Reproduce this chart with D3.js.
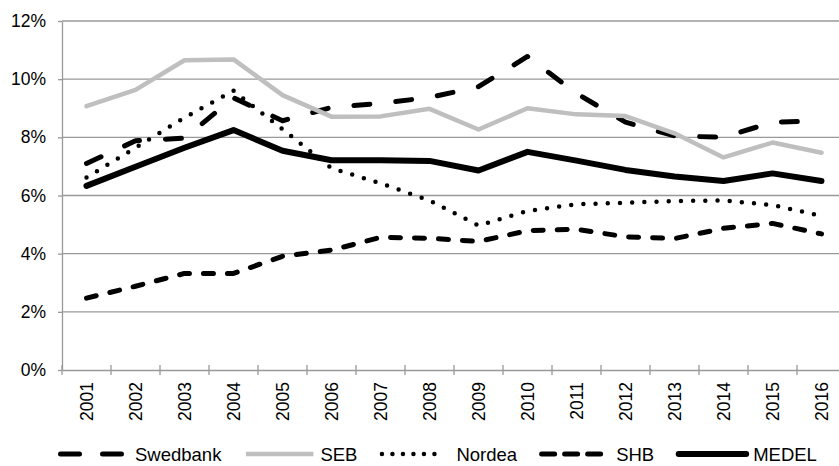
<!DOCTYPE html>
<html lang="sv">
<head>
<meta charset="UTF-8">
<title>Banker 2001-2016</title>
<script src="https://cdn.jsdelivr.net/npm/d3@7/dist/d3.min.js"></script>
<style>
  html, body { margin: 0; padding: 0; background: #fff; }
  svg { display: block; }
</style>
</head>
<body>
<script>
const years = ['2001', '2002', '2003', '2004', '2005', '2006', '2007', '2008',
               '2009', '2010', '2011', '2012', '2013', '2014', '2015', '2016'];

// värden i procent
const swedbank = [7.10, 7.88, 7.97, 9.36, 8.57, 9.03, 9.17, 9.37, 9.74, 10.78, 9.51, 8.52, 8.05, 8.00, 8.52, 8.56];
const seb      = [9.07, 9.63, 10.65, 10.68, 9.45, 8.71, 8.72, 8.98, 8.27, 9.00, 8.79, 8.73, 8.14, 7.31, 7.82, 7.47];
const nordea   = [6.62, 7.64, 8.68, 9.60, 8.28, 6.94, 6.42, 5.83, 4.97, 5.47, 5.70, 5.75, 5.81, 5.83, 5.67, 5.30];
const shb      = [2.47, 2.88, 3.32, 3.32, 3.91, 4.12, 4.56, 4.53, 4.42, 4.79, 4.84, 4.58, 4.52, 4.87, 5.04, 4.68];
const medel    = [6.33, 6.99, 7.64, 8.25, 7.54, 7.21, 7.21, 7.19, 6.86, 7.50, 7.20, 6.88, 6.65, 6.50, 6.76, 6.50];

const yTicks = [0, 2, 4, 6, 8, 10, 12];

const width = 839;
const height = 466;
const gridColor = '#999';
const font = '"Liberation Sans", Arial, sans-serif';

const series = [
  {name: 'Swedbank', values: swedbank, color: '#000',    sw: 5,   dash: '16,26',  legDash: '19,23'},
  {name: 'SEB',      values: seb,      color: '#bfbfbf', sw: 4.5, dash: null,     legDash: null},
  {name: 'Nordea',   values: nordea,   color: '#000',    sw: 4.5, dash: '0,12.2', legDash: '0,10.5'},
  {name: 'SHB',      values: shb,      color: '#000',    sw: 5,   dash: '10,14',  legDash: '13,10'},
  {name: 'MEDEL',    values: medel,    color: '#000',    sw: 6,   dash: null,     legDash: null}
];

const x = d3.scaleBand().domain(years).range([62, 846]);
const y = d3.scaleLinear().domain([0, 12]).range([370, 21]);

const svg = d3.select('body').append('svg')
    .attr('width', width)
    .attr('height', height)
    .attr('font-family', font);

// rutnät
svg.append('g')
    .selectAll('line')
    .data(yTicks.filter(d => d > 0))
    .enter().append('line')
    .attr('x1', 62).attr('x2', 846)
    .attr('y1', d => y(d)).attr('y2', d => y(d))
    .attr('stroke', gridColor)
    .attr('stroke-width', 1.3);

// y-axel
const yAxis = svg.append('g')
    .attr('transform', 'translate(62,0)')
    .call(d3.axisLeft(y).tickValues(yTicks).tickSize(4).tickSizeOuter(0).tickPadding(12)
        .tickFormat(d => d + '%'));
yAxis.select('.domain').attr('stroke', gridColor).attr('stroke-width', 1.3);
yAxis.selectAll('.tick line').attr('stroke', gridColor).attr('stroke-width', 1.3);
yAxis.selectAll('text')
    .attr('font-size', 17.5)
    .attr('font-family', font)
    .attr('fill', '#000');

// x-axel
const xAxis = svg.append('g')
    .attr('transform', 'translate(0,370)')
    .call(d3.axisBottom(x).tickSize(0).tickSizeOuter(0));
xAxis.select('.domain').attr('stroke', gridColor).attr('stroke-width', 1.3);
xAxis.selectAll('text')
    .attr('font-size', 17.5)
    .attr('font-family', font)
    .attr('fill', '#000')
    .attr('transform', 'rotate(-90)')
    .attr('text-anchor', 'end')
    .attr('x', -12)
    .attr('y', 0)
    .attr('dy', '0.36em');

// streck mellan kategorierna
const bounds = years.map(d => x(d)).concat([x.range()[1]]);
svg.append('g')
    .selectAll('line')
    .data(bounds)
    .enter().append('line')
    .attr('x1', d => d).attr('x2', d => d)
    .attr('y1', 365).attr('y2', 375)
    .attr('stroke', gridColor)
    .attr('stroke-width', 1.3);

// linjer
const line = d3.line()
    .x((d, i) => x(years[i]) + x.bandwidth() / 2)
    .y(d => y(d));

svg.append('g')
    .selectAll('path')
    .data(series)
    .enter().append('path')
    .attr('d', d => line(d.values))
    .attr('fill', 'none')
    .attr('stroke', d => d.color)
    .attr('stroke-width', d => d.sw)
    .attr('stroke-linecap', 'round')
    .attr('stroke-linejoin', 'round')
    .attr('stroke-dasharray', d => d.dash);

// legend
const legend = svg.append('g').attr('transform', 'translate(0,454)');
let lx = 58;
series.forEach(s => {
  const item = legend.append('g').attr('transform', `translate(${lx},0)`);
  item.append('line')
      .attr('x1', 2.5).attr('x2', s.dash ? 65 : 70)
      .attr('y1', 0).attr('y2', 0)
      .attr('stroke', s.color)
      .attr('stroke-width', s.name === 'MEDEL' ? 6 : s.sw)
      .attr('stroke-linecap', s.name === 'SEB' ? 'butt' : 'round')
      .attr('stroke-dasharray', s.legDash);
  const t = item.append('text')
      .attr('x', 77)
      .attr('y', 0)
      .attr('dy', '0.36em')
      .attr('font-size', 18.5)
      .attr('fill', '#000')
      .text(s.name);
  lx += 77 + t.node().getComputedTextLength() + 22;
});
</script>
</body>
</html>
